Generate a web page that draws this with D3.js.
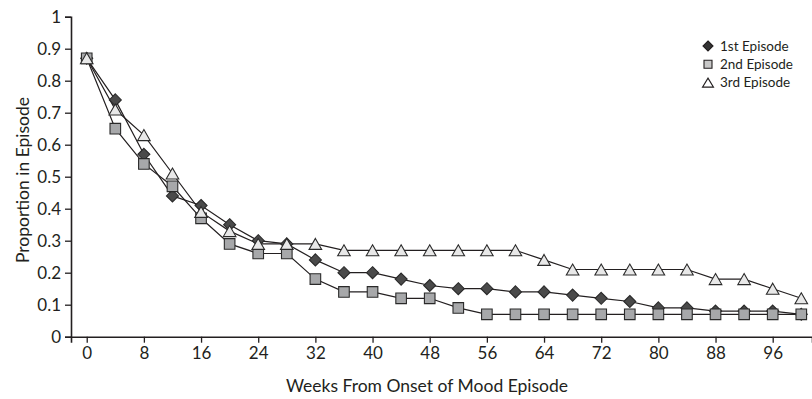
<!DOCTYPE html>
<html>
<head>
<meta charset="utf-8">
<script src="https://cdn.jsdelivr.net/npm/d3@7/dist/d3.min.js"></script>
<style>
  html, body { margin: 0; padding: 0; background: #fff; }
  svg { display: block; }
  text { font-family: Lato, "Open Sans", sans-serif; fill: #231f20; }
</style>
</head>
<body>
<svg id="chart" width="812" height="399"></svg>
<script>
const weeks = [0,4,8,12,16,20,24,28,32,36,40,44,48,52,56,60,64,68,72,76,80,84,88,92,96,100];
const episode1 = [0.87,0.74,0.57,0.44,0.41,0.35,0.30,0.29,0.24,0.20,0.20,0.18,0.16,0.15,0.15,0.14,0.14,0.13,0.12,0.11,0.09,0.09,0.08,0.08,0.08,0.07];
const episode2 = [0.87,0.65,0.54,0.47,0.37,0.29,0.26,0.26,0.18,0.14,0.14,0.12,0.12,0.09,0.07,0.07,0.07,0.07,0.07,0.07,0.07,0.07,0.07,0.07,0.07,0.07];
const episode3 = [0.87,0.71,0.63,0.51,0.39,0.33,0.29,0.29,0.29,0.27,0.27,0.27,0.27,0.27,0.27,0.27,0.24,0.21,0.21,0.21,0.21,0.21,0.18,0.18,0.15,0.12];
const seriesNames = ["1st Episode","2nd Episode","3rd Episode"];
const xTicks = [0,8,16,24,32,40,48,56,64,72,80,88,96];
const yTicks = [0,0.1,0.2,0.3,0.4,0.5,0.6,0.7,0.8,0.9,1];
const xTitle = "Weeks From Onset of Mood Episode";
const yTitle = "Proportion in Episode";

const svg = d3.select("#chart");
const ink = "#231f20";

const x = d3.scaleLinear().domain([-2.2, 101.5]).range([71, 812]);
const y = d3.scaleLinear().domain([0, 1]).range([336.7, 16.7]);

// axes
const xAxis = svg.append("g").attr("transform", `translate(0,${y(0)})`)
  .call(d3.axisBottom(x).tickValues(xTicks).tickSizeOuter(0).tickSize(6).tickPadding(4).tickFormat(d3.format("d")));
const yAxis = svg.append("g").attr("transform", `translate(${x(-2.2)},0)`)
  .call(d3.axisLeft(y).tickValues(yTicks).tickSizeOuter(0).tickSize(6).tickPadding(4).tickFormat(d => d === 0 ? "0" : d === 1 ? "1" : d3.format(".1f")(d)));
[xAxis, yAxis].forEach(a => {
  a.selectAll("path.domain").attr("stroke", ink).attr("stroke-width", 1.6);
  a.selectAll(".tick line").attr("stroke", ink).attr("stroke-width", 1.3);
  a.selectAll(".tick text").attr("fill", ink).style("font-size", "17px").style("font-family", "Lato, sans-serif");
});

// titles
svg.append("text").attr("x", 427).attr("y", 392).attr("text-anchor", "middle")
  .style("font-size", "17.5px").text(xTitle);
svg.append("text").attr("transform", `translate(29,180) rotate(-90)`).attr("text-anchor", "middle")
  .style("font-size", "17.5px").text(yTitle);

const allSeries = [episode1, episode2, episode3];
const line = d3.line().x((d, i) => x(weeks[i])).y(d => y(d));

// lines
allSeries.forEach(s => {
  svg.append("path").datum(s).attr("d", line)
    .attr("fill", "none").attr("stroke", ink).attr("stroke-width", 1.2);
});

// marker shapes
function diamond(r) { return `M0,${-r}L${r},0L0,${r}L${-r},0Z`; }
function square(h) { return `M${-h},${-h}H${h}V${h}H${-h}Z`; }
function triangle(w, h) { return `M0,${-h}L${w},${h}L${-w},${h}Z`; }
const markerStyle = [
  { d: diamond(6), fill: "#4a4a4a", stroke: "#2a2a2a" },
  { d: square(5.3), fill: "#a7a8aa", stroke: "#2a2a2a" },
  { d: triangle(6.3, 5.5), fill: "#e8e8e8", stroke: "#2a2a2a" }
];
allSeries.forEach((s, k) => {
  svg.append("g").selectAll("path").data(s).join("path")
    .attr("transform", (d, i) => `translate(${x(weeks[i])},${y(d)})`)
    .attr("d", markerStyle[k].d)
    .attr("fill", markerStyle[k].fill)
    .attr("stroke", markerStyle[k].stroke)
    .attr("stroke-width", 1.1);
});

// legend
const legendMarks = [
  { d: diamond(5), fill: "#333" },
  { d: square(4), fill: "#c8c8c8" },
  { d: triangle(5.5, 4.5), fill: "#fff" }
];
const legend = svg.append("g").attr("transform", "translate(708,46)");
seriesNames.forEach((name, k) => {
  const g = legend.append("g").attr("transform", `translate(0,${k * 18.3})`);
  g.append("path").attr("d", legendMarks[k].d).attr("fill", legendMarks[k].fill)
    .attr("stroke", ink).attr("stroke-width", 1.1);
  g.append("text").attr("x", 12).attr("y", 4.6).style("font-size", "13.5px").text(name);
});
</script>
</body>
</html>
